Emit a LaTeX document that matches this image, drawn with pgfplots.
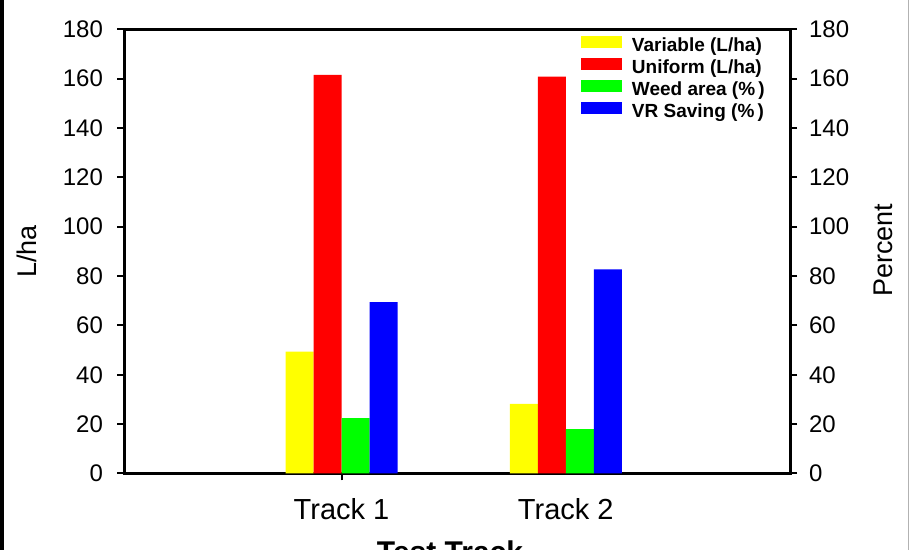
\documentclass[border=0pt]{standalone}
\usepackage{pgfplots}
\pgfplotsset{compat=1.18}
\usepackage{fontspec}
\setmainfont{Liberation Sans}
\definecolor{cY}{RGB}{255,255,0}
\definecolor{cR}{RGB}{255,0,0}
\definecolor{cG}{RGB}{0,255,0}
\definecolor{cB}{RGB}{0,0,255}
\begin{document}
\begin{tikzpicture}
\path[use as bounding box] (0,0) rectangle (455pt,275pt);
\begin{scope}
\clip (0,0) rectangle (455pt,275pt);
\begin{axis}[
  at={(62pt,38.25pt)}, anchor=south west, scale only axis,
  width=333pt, height=222.1pt,
  xmin=0.03, xmax=3, ymin=0, ymax=180,
  /pgf/number format/assume math mode=true,
  ytick={0,20,...,180}, ytick pos=left,
  tick align=outside, major tick length=3.5pt,
  xtick={1}, xticklabels={Track 1},
  extra x ticks={2}, extra x tick labels={Track 2},
  extra x tick style={major tick length=0pt, tick label style={yshift=-3.5pt}},
  xtick pos=bottom,
  axis line style={line width=1.5pt},
  every tick/.style={line width=1pt, black},
  yticklabel style={font=\fontsize{12}{14}\selectfont, xshift=-3.5pt},
  xticklabel style={font=\fontsize{14.5}{17}\selectfont, yshift=-5.5pt},
  ylabel={L/ha},
  ylabel style={font=\fontsize{13.5}{16}\selectfont, at={(axis description cs:-0.1456,0.5)}, anchor=center},
  xlabel={Test Track},
  xlabel style={font=\bfseries\fontsize{15}{18}\selectfont, at={(axis description cs:0.4895,-0.2001)}, anchor=base},
  ybar=0pt, bar width=14pt,
  legend style={at={(rel axis cs:0.6857,0.986)}, anchor=north west, draw=none, fill=none,
    inner sep=0pt, outer sep=0pt, row sep=1pt, column sep=4.85pt,
    font=\bfseries\fontsize{9.5}{11}\selectfont,
    nodes={inner sep=0pt, text height=7pt, text depth=2pt}},
  legend cell align=left,
  legend image code/.code={\fill[#1] (0pt,-0.5pt) rectangle (20.8pt,5.5pt);},
]
\addplot[fill=cY, draw=none, bar shift=-21pt] coordinates {(1,49.4) (2,28.2)};
\addplot[fill=cR, draw=none, bar shift=-7pt] coordinates {(1,161.5) (2,160.8)};
\addplot[fill=cG, draw=none, bar shift=7pt] coordinates {(1,22.4) (2,18.0)};
\addplot[fill=cB, draw=none, bar shift=21pt] coordinates {(1,69.4) (2,82.7)};
\legend{Variable (L/ha), Uniform (L/ha), Weed area (\%\,), VR Saving (\%\,)}
\end{axis}
\begin{axis}[
  at={(62pt,38.25pt)}, anchor=south west, scale only axis,
  width=333pt, height=222.1pt,
  xmin=0.03, xmax=3, ymin=0, ymax=180,
  /pgf/number format/assume math mode=true,
  axis x line=none, axis y line*=right,
  ytick={0,20,...,180}, ytick pos=right,
  tick align=outside, major tick length=3.5pt,
  axis line style={line width=1.5pt, -},
  every tick/.style={line width=1pt, black},
  yticklabel style={font=\fontsize{12}{14}\selectfont, xshift=2.5pt},
  ylabel={Percent},
  ylabel style={font=\fontsize{13.5}{16}\selectfont, at={(axis description cs:1.1396,0.503)}, anchor=center},
]
\end{axis}
\fill[black] (0,0) rectangle (2pt,275pt);
\draw[gray!60, line width=0.6pt] (454.2pt,0) -- (454.2pt,275pt);
\end{scope}
\end{tikzpicture}
\end{document}
